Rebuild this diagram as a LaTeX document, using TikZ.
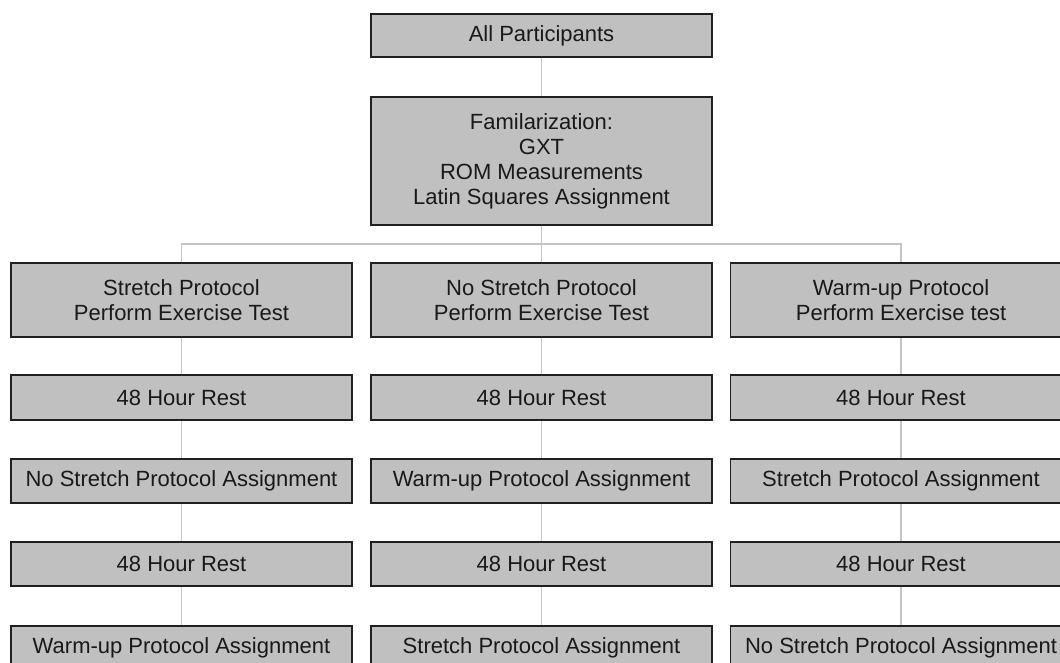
\documentclass[tikz,border=0pt]{standalone}
\usepackage{fontspec}
\setmainfont{Liberation Sans}
\definecolor{boxfill}{HTML}{C0C0C0}
\definecolor{boxline}{HTML}{202020}
\definecolor{linkgray}{HTML}{C4C4C4}
\tikzset{
  flowbox/.style={draw=boxline, line width=1.1pt, fill=boxfill, align=center,
    minimum width=341pt, inner sep=0pt, text=black!90, font=\fontsize{22}{25}\selectfont},
  conn/.style={draw=linkgray, line width=1.3pt}
}
\begin{document}
\begin{tikzpicture}[x=1pt,y=-1pt]
\useasboundingbox (0,0) rectangle (1060,662);
\clip (0,0) rectangle (1060,662);
\fill[white] (0,0) rectangle (1060,662);
% coordinates for the connectors
\coordinate (bus) at (541.5,244);
\path (541.5,35.5) coordinate (pTop) (541.5,161) coordinate (pFam);
\foreach \c/\x in {A/181.5,B/541.5,C/901}{
  \path (\x,300) coordinate (p\c1) (\x,397.5) coordinate (p\c2)
        (\x,481) coordinate (p\c3) (\x,564) coordinate (p\c4)
        (\x,648) coordinate (p\c5);
}
% connectors first (behind boxes)
\draw[conn] (pTop) -- (pFam);
\draw[conn] (pFam) -- (bus);
\draw[conn] (bus) -| (pA1);
\draw[conn] (bus) -| (pC1);
\draw[conn] (bus) -- (pB1);
\foreach \c in {A,B,C}{
  \draw[conn] (p\c1) -- (p\c2) -- (p\c3) -- (p\c4) -- (p\c5);
}
% boxes
\node[flowbox, minimum height=43pt] (top) at (pTop) {All Participants};
\node[flowbox, minimum height=128pt] (fam) at (pFam) {Familarization:\\GXT\\ROM Measurements\\Latin Squares Assignment};
\node[flowbox, minimum height=74pt] (a1) at (pA1) {Stretch Protocol\\Perform Exercise Test};
\node[flowbox, minimum height=74pt] (b1) at (pB1) {No Stretch Protocol\\Perform Exercise Test};
\node[flowbox, minimum height=74pt] (c1) at (pC1) {Warm-up Protocol\\Perform Exercise test};
\node[flowbox, minimum height=45pt] (a2) at (pA2) {48 Hour Rest};
\node[flowbox, minimum height=45pt] (b2) at (pB2) {48 Hour Rest};
\node[flowbox, minimum height=45pt] (c2) at (pC2) {48 Hour Rest};
\node[flowbox, minimum height=44pt] (a3) at (pA3) {No Stretch Protocol Assignment};
\node[flowbox, minimum height=44pt] (b3) at (pB3) {Warm-up Protocol Assignment};
\node[flowbox, minimum height=44pt] (c3) at (pC3) {Stretch Protocol Assignment};
\node[flowbox, minimum height=44pt] (a4) at (pA4) {48 Hour Rest};
\node[flowbox, minimum height=44pt] (b4) at (pB4) {48 Hour Rest};
\node[flowbox, minimum height=44pt] (c4) at (pC4) {48 Hour Rest};
\node[flowbox, minimum height=44pt] (a5) at (pA5) {Warm-up Protocol Assignment};
\node[flowbox, minimum height=44pt] (b5) at (pB5) {Stretch Protocol Assignment};
\node[flowbox, minimum height=44pt] (c5) at (pC5) {No Stretch Protocol Assignment};
\end{tikzpicture}
\end{document}
